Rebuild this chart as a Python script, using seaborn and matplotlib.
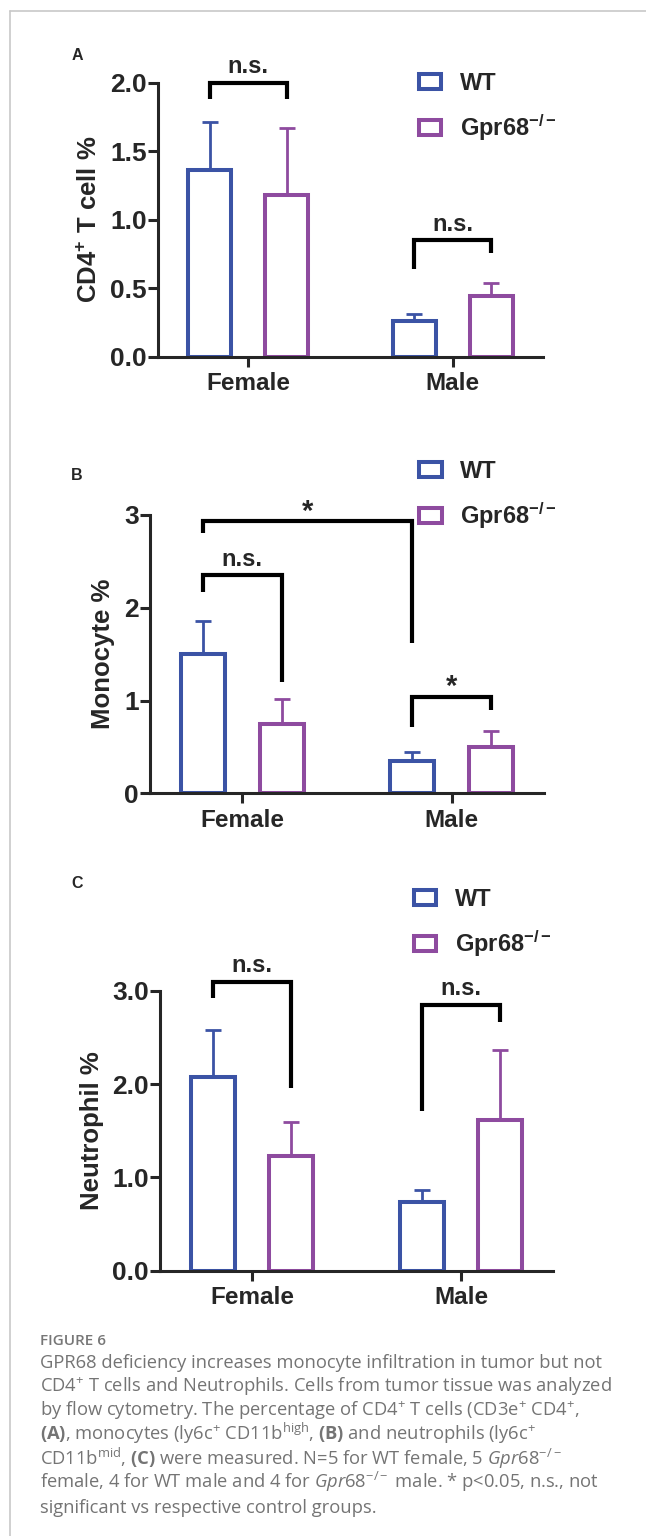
import numpy as np
import pandas as pd
import matplotlib
matplotlib.use("Agg")
import matplotlib.pyplot as plt
import matplotlib.patches as mpatches
from matplotlib.lines import Line2D
from matplotlib.ticker import FormatStrFormatter
import seaborn as sns

sns.set_style("ticks")
plt.rcParams['font.family'] = ['Liberation Sans', 'DejaVu Sans']
plt.rcParams['font.weight'] = 'bold'
plt.rcParams['mathtext.fontset'] = 'custom'
plt.rcParams['mathtext.rm'] = 'Open Sans:weight=normal'
plt.rcParams['mathtext.it'] = 'Open Sans:style=italic:weight=normal'
plt.rcParams['mathtext.bf'] = 'Liberation Sans:weight=bold'
plt.rcParams['mathtext.sf'] = 'Open Sans:weight=bold'
plt.rcParams['mathtext.default'] = 'rm'

# data (mean, upper SEM)
sexes = ["Female", "Male"]
genotypes = ["WT", r"Gpr68$^{\mathbf{-/-}}$"]
colors = ["#3B53A5", "#8E4B9F"]

cd4_wt = [1.36, 0.26]
cd4_ko = [1.18, 0.44]
cd4_wt_err = [0.35, 0.05]
cd4_ko_err = [0.49, 0.10]

mono_wt = [1.50, 0.35]
mono_ko = [0.75, 0.50]
mono_wt_err = [0.36, 0.095]
mono_ko_err = [0.27, 0.17]

neut_wt = [2.08, 0.74]
neut_ko = [1.23, 1.62]
neut_wt_err = [0.50, 0.13]
neut_ko_err = [0.36, 0.75]

# brackets: (bar a, bar b, top, left leg end, right leg end, label); bar = (sex index, genotype index)
cd4_brackets = [((0, 0), (0, 1), 2.0, 1.88, 1.88, "n.s."),
                ((1, 0), (1, 1), 0.85, 0.64, 0.76, "n.s.")]
mono_brackets = [((0, 0), (1, 0), 2.93, 2.81, 1.62, "*"),
                 ((0, 0), (0, 1), 2.35, 2.17, 1.20, "n.s."),
                 ((1, 0), (1, 1), 1.04, 0.72, 0.90, "*")]
neut_brackets = [((0, 0), (0, 1), 3.10, 2.93, 1.96, "n.s."),
                 ((1, 0), (1, 1), 2.85, 1.71, 2.67, "n.s.")]

caption_title = "FIGURE 6"
caption_lines = [
    "GPR68 deficiency increases monocyte infiltration in tumor but not",
    r"CD4$^{+}$ T cells and Neutrophils. Cells from tumor tissue was analyzed",
    r"by flow cytometry. The percentage of CD4$^{+}$ T cells (CD3e$^{+}$ CD4$^{+}$,",
    r"$\mathsf{(A)}$, monocytes (ly6c$^{+}$ CD11b$^{\mathrm{high}}$, $\mathsf{(B)}$ and neutrophils (ly6c$^{+}$",
    r"CD11b$^{\mathrm{mid}}$, $\mathsf{(C)}$ were measured. N=5 for WT female, 5 $\mathit{Gpr68}^{-/-}$",
    r"female, 4 for WT male and 4 for $\mathit{Gpr68}^{-/-}$ male. * p<0.05, n.s., not",
    "significant vs respective control groups.",
]

W, H = 646, 1536
fig = plt.figure(figsize=(W / 100, H / 100), dpi=100)


def px_rect(left, right, top, bottom):
    return [left / W, 1 - bottom / H, (right - left) / W, (bottom - top) / H]


def draw_panel(rect, wt, ko, wt_err, ko_err, ylim, yticks, fmt, ylabel, ylabel_x,
               brackets, letter, letter_xy, legend_xy):
    ax = fig.add_axes(rect)
    df = pd.DataFrame({"sex": sexes * 2,
                       "genotype": [genotypes[0]] * 2 + [genotypes[1]] * 2,
                       "value": wt + ko})
    sns.barplot(data=df, x="sex", y="value", hue="genotype", palette=colors,
                fill=False, linewidth=2.9, width=0.75, gap=0.44,
                errorbar=None, legend=False, ax=ax)

    # bar centres from the drawn patches
    centers, tops = {}, {}
    for p in ax.patches:
        cx = p.get_x() + p.get_width() / 2
        cat = int(round(cx))
        g = 0 if cx < cat else 1
        centers[(cat, g)] = cx
        tops[(cat, g)] = p.get_height()

    for g, errs in enumerate([wt_err, ko_err]):
        xs = [centers[(i, g)] for i in range(2)]
        ys = [tops[(i, g)] for i in range(2)]
        ax.errorbar(xs, ys, yerr=[np.zeros(2), errs], fmt="none",
                    ecolor=colors[g], elinewidth=2, capsize=6, capthick=2)

    for a, b, top, la, lb, label in brackets:
        x1, x2 = centers[a], centers[b]
        ax.plot([x1, x1, x2, x2], [la, top, top, lb], color="black", lw=3,
                clip_on=False, solid_joinstyle="miter", solid_capstyle="butt")
        if label == "*":
            ax.annotate(label, xy=((x1 + x2) / 2, top), xytext=(0, 1),
                        textcoords="offset points", ha="center", va="baseline",
                        fontsize=21, annotation_clip=False)
        else:
            ax.annotate(label, xy=((x1 + x2) / 2, top), xytext=(0, 7),
                        textcoords="offset points", ha="center", va="baseline",
                        fontsize=17, annotation_clip=False)

    ax.set_xlim(-0.44, 1.44)
    ax.set_ylim(*ylim)
    ax.set_yticks(yticks)
    ax.yaxis.set_major_formatter(FormatStrFormatter(fmt))
    sns.despine(ax=ax)
    for s in ["left", "bottom"]:
        ax.spines[s].set_linewidth(2.2)
    ax.tick_params(axis="y", length=7, width=2.2, labelsize=19, pad=1)
    ax.tick_params(axis="x", length=7, width=2.2, labelsize=17.5, pad=4)
    ax.set_xlabel("")
    ax.set_ylabel(ylabel, fontsize=18.5, fontweight="bold")
    ax.yaxis.set_label_coords(ylabel_x, 0.5)

    handles = [mpatches.Patch(facecolor="white", edgecolor=c, linewidth=2.9) for c in colors]
    ax.legend(handles, genotypes, loc="upper left", bbox_to_anchor=legend_xy,
              frameon=False, fontsize=17, handlelength=0.95, handleheight=0.62,
              handletextpad=0.8, labelspacing=0.72, borderpad=0, borderaxespad=0)

    fig.text(letter_xy[0] / W, 1 - letter_xy[1] / H, letter, fontsize=11.5,
             fontweight="bold", ha="center", va="center")
    return ax


draw_panel(px_rect(158, 543, 82.7, 356.7), cd4_wt, cd4_ko, cd4_wt_err, cd4_ko_err,
           (0, 2.0), [0, 0.5, 1.0, 1.5, 2.0], "%.1f", r"CD4$^{\mathbf{+}}$ T cell %", -0.145,
           cd4_brackets, "A", (77, 55), (0.678, 1.039))
draw_panel(px_rect(150, 544, 515, 793.3), mono_wt, mono_ko, mono_wt_err, mono_ko_err,
           (0, 3), [0, 1, 2, 3], "%d", "Monocyte %", -0.088,
           mono_brackets, "B", (77, 476), (0.683, 1.198))
draw_panel(px_rect(160, 553, 991, 1270.7), neut_wt, neut_ko, neut_wt_err, neut_ko_err,
           (0, 3.0), [0, 1.0, 2.0, 3.0], "%.1f", "Neutrophil %", -0.1425,
           neut_brackets, "C", (77, 883), (0.646, 1.368))

# frame lines of the page
fig.add_artist(Line2D([10 / W, 1], [1 - 11 / H, 1 - 11 / H], color="#c8c8c8", lw=1.2))
fig.add_artist(Line2D([10 / W, 10 / W], [0, 1 - 11 / H], color="#c8c8c8", lw=1.2))

# caption
fig.text(40 / W, 1 - 1345 / H, caption_title, fontsize=11, color="#777777",
         family="Open Sans", fontweight="semibold", va="baseline")
for i, line in enumerate(caption_lines):
    fig.text(40 / W, 1 - (1368 + i * 24.1) / H, line, fontsize=13.2, color="#747474",
             family="Open Sans", fontweight="normal", va="baseline")

fig.savefig("out.png", dpi=100)
